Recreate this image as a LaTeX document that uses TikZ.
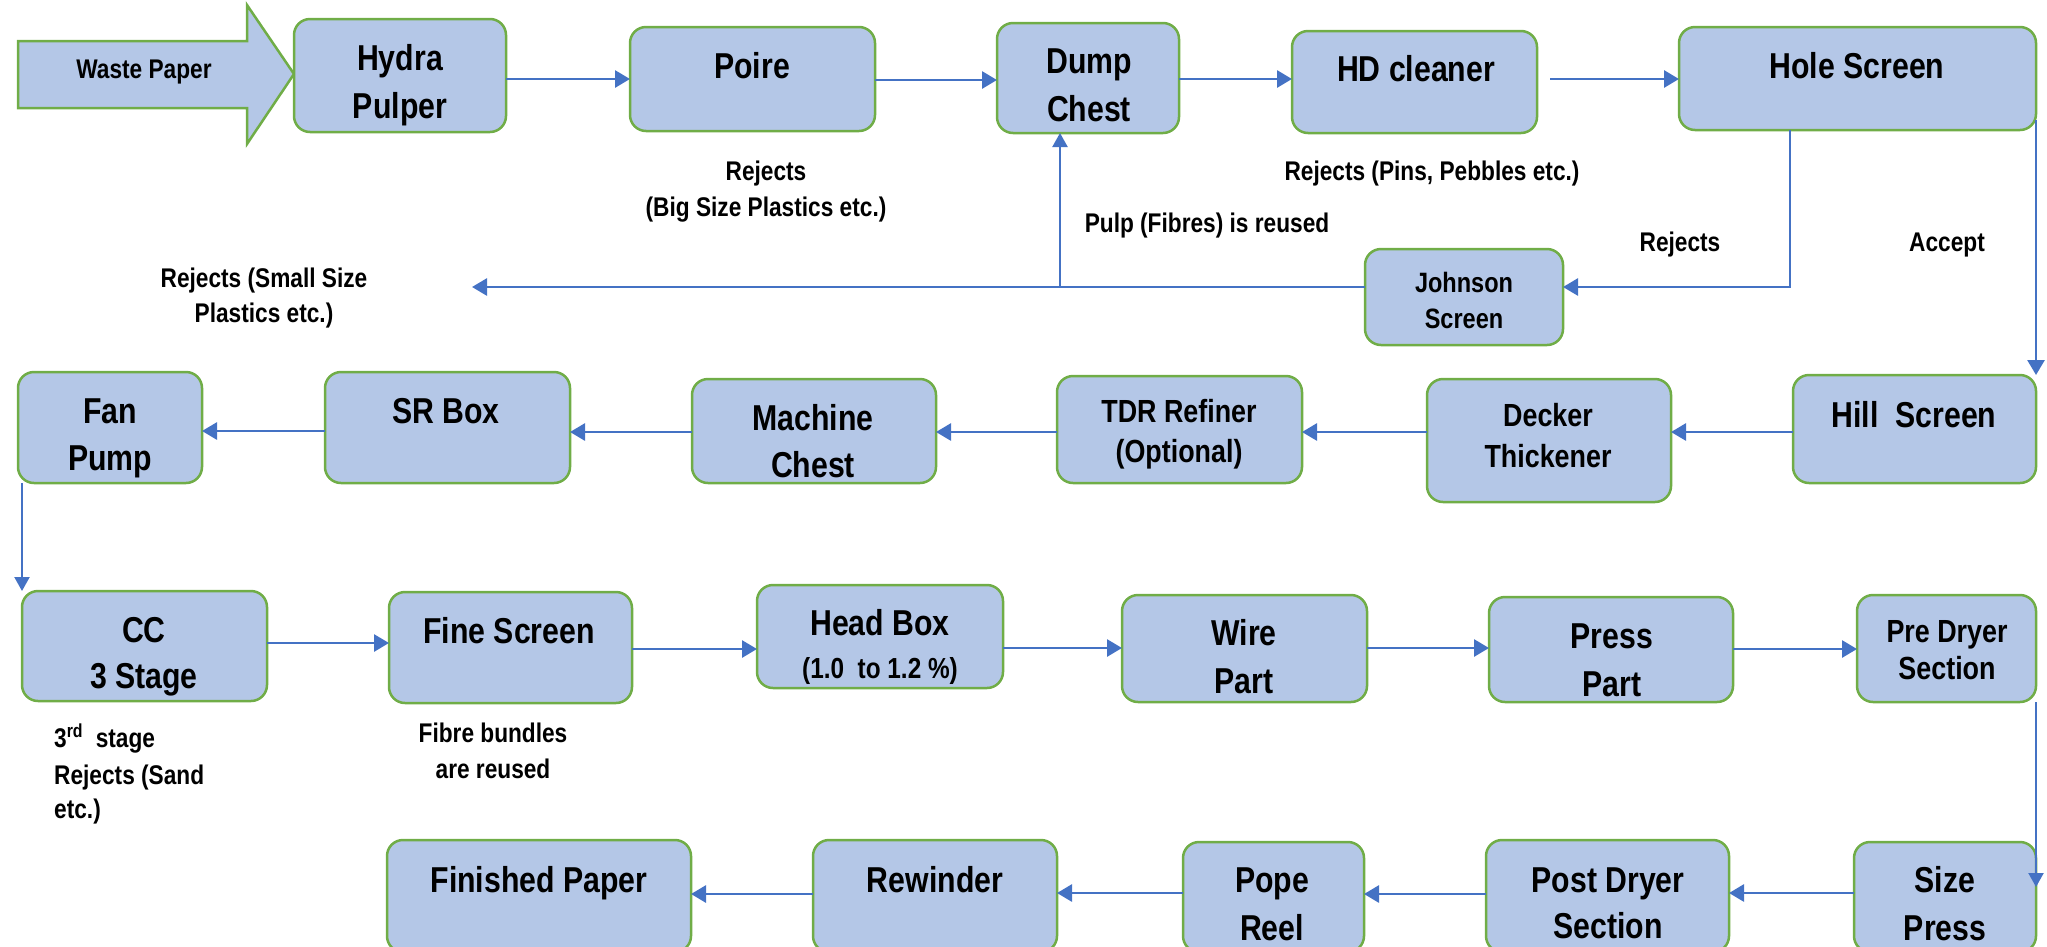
\documentclass[tikz,border=0pt]{standalone}
\usepackage{fontspec}
\setmainfont{Liberation Sans}[FakeStretch=0.84]
\usetikzlibrary{arrows.meta}
\definecolor{bfill}{HTML}{B4C7E7}
\definecolor{bgreen}{HTML}{70AD47}
\definecolor{ablue}{HTML}{4472C4}
\tikzset{
  box/.style={draw=bgreen, fill=bfill, line width=2.5pt, rounded corners=16pt, inner sep=0pt, outer sep=0pt},
  flow/.style={draw=ablue, line width=2.8pt, -{Triangle[length=15pt,width=17pt]}},
  thinflow/.style={draw=ablue, line width=2.2pt, -{Triangle[length=14pt,width=15pt]}},
  flowline/.style={draw=ablue, line width=2.8pt},
  tL/.style={font=\fontsize{36}{43}\selectfont\bfseries, anchor=base, inner sep=0pt},
  tM/.style={font=\fontsize{32}{38}\selectfont\bfseries, anchor=base, inner sep=0pt},
  tS/.style={font=\fontsize{27}{32}\selectfont\bfseries, anchor=base, inner sep=0pt},
  tJ/.style={font=\fontsize{28}{33}\selectfont\bfseries, anchor=base, inner sep=0pt},
}
\newcommand\bx[5]{\node[box, minimum width={#4-#2}, minimum height={#5-#3}] (#1) at ({(#2+#4)/2},{(#3+#5)/2}) {};}
\begin{document}
\begin{tikzpicture}[x=1pt, y=-1pt]
\useasboundingbox (0,0) rectangle (2047,946);
\clip (0,0) rectangle (2047,946);

% input arrow
\path[draw=bgreen, fill=bfill, line width=2.5pt, line join=miter]
  (18,41) -- (247,41) -- (247,5) -- (294,74) -- (247,144) -- (247,108) -- (18,108) -- cycle;

% boxes
\bx{hydra}{294}{19}{506}{132}
\bx{poire}{630}{27}{875}{131}
\bx{dump}{997}{23}{1179}{133}
\bx{hd}{1292}{31}{1537}{133}
\bx{hole}{1679}{27}{2036}{130}
\bx{johnson}{1365}{249}{1563}{345}
\bx{fan}{18}{372}{202}{483}
\bx{sr}{325}{372}{570}{483}
\bx{machine}{692}{379}{936}{483}
\bx{tdr}{1057}{376}{1302}{483}
\bx{decker}{1427}{379}{1671}{502}
\bx{hill}{1793}{375}{2036}{483}
\bx{cc}{22}{591}{267}{701}
\bx{fine}{389}{592}{632}{703}
\bx{head}{757}{585}{1003}{688}
\bx{wire}{1122}{595}{1367}{702}
\bx{press}{1489}{597}{1733}{702}
\bx{predryer}{1857}{595}{2036}{702}
\bx{finished}{387}{840}{691}{952}
\bx{rewinder}{813}{840}{1057}{952}
\bx{pope}{1183}{842}{1364}{952}
\bx{postdryer}{1486}{840}{1729}{952}
\bx{size}{1854}{842}{2036}{952}

% texts row 1
\node[tS] (wp-t) at (144,78) {Waste Paper};
\node[tL] (hydra-t1) at (400,70) {Hydra};
\node[tL] (hydra-t2) at (400,118) {Pulper};
\node[tL] (poire-t) at (752,78) {Poire};
\node[tL] (dump-t1) at (1089,73) {Dump};
\node[tL] (dump-t2) at (1089,121) {Chest};
\node[tL] (hd-t) at (1416,81) {HD cleaner};
\node[tL] (hole-t) at (1857,78) {Hole Screen};
\node[tS] (rj1a) at (766,180) {Rejects};
\node[tS] (rj1b) at (766,216) {(Big Size Plastics etc.)};
\node[tS] (rj2) at (1432,180) {Rejects (Pins, Pebbles etc.)};
\node[tS] (pulp) at (1207,232) {Pulp (Fibres) is reused};
\node[tS] (rj3) at (1680,251) {Rejects};
\node[tS] (acc) at (1947,251) {Accept};
\node[tS] (rj4a) at (264,287) {Rejects (Small Size};
\node[tS] (rj4b) at (264,322) {Plastics etc.)};
\node[tJ] (john-t1) at (1464,292) {Johnson};
\node[tJ] (john-t2) at (1464,328) {Screen};

% texts row 2
\node[tL] (fan-t1) at (110,423) {Fan};
\node[tL] (fan-t2) at (110,470) {Pump};
\node[tL] (sr-t) at (446,423) {SR Box};
\node[tL] (mach-t1) at (813,430) {Machine};
\node[tL] (mach-t2) at (813,477) {Chest};
\node[tM] (tdr-t1) at (1179,422) {TDR Refiner};
\node[tM] (tdr-t2) at (1179,462) {(Optional)};
\node[tM] (deck-t1) at (1548,426) {Decker};
\node[tM] (deck-t2) at (1548,467) {Thickener};
\node[tL] (hill-t) at (1914,427) {Hill\ \ Screen};

% texts row 3
\node[tL] (cc-t1) at (144,642) {CC};
\node[tL] (cc-t2) at (144,688) {3 Stage};
\node[tL] (fine-t) at (509,643) {Fine Screen};
\node[tL] (head-t1) at (880,635) {Head Box};
\node[font=\fontsize{29}{34}\selectfont\bfseries, anchor=base, inner sep=0pt] (head-t2) at (880,678) {(1.0\ \ to 1.2 \%)};
\node[tL] (wire-t1) at (1244,645) {Wire};
\node[tL] (wire-t2) at (1244,693) {Part};
\node[tL] (press-t1) at (1612,648) {Press};
\node[tL] (press-t2) at (1612,696) {Part};
\node[tM] (pre-t1) at (1947,642) {Pre Dryer};
\node[tM] (pre-t2) at (1947,679) {Section};
\node[tS] (fib-t1) at (493,742) {Fibre bundles};
\node[tS] (fib-t2) at (493,778) {are reused};
\node[tS, anchor=base west] (st-t1) at (54,747) {3\textsuperscript{rd}\ \ stage};
\node[tS, anchor=base west] (st-t2) at (54,784) {Rejects (Sand};
\node[tS, anchor=base west] (st-t3) at (54,818) {etc.)};

% texts row 4
\node[tL] (fin-t) at (539,892) {Finished Paper};
\node[tL] (rew-t) at (935,892) {Rewinder};
\node[tL] (pope-t1) at (1272,892) {Pope};
\node[tL] (pope-t2) at (1272,940) {Reel};
\node[tL] (post-t1) at (1608,892) {Post Dryer};
\node[tL] (post-t2) at (1608,938) {Section};
\node[tL] (size-t1) at (1945,892) {Size};
\node[tL] (size-t2) at (1945,940) {Press};

% named free ends
\coordinate (hdout) at (1550,79);
\coordinate (rjcorner) at (1790,287);
\coordinate (smallrej) at (472,287);
\coordinate (pulpfoot) at (1060,287);
\coordinate (sizein) at (2036,887);

% connectors row 1
\draw[flow] (hydra.east |- 0,79) -- (poire.west |- 0,79);
\draw[flow] (poire.east |- 0,80) -- (dump.west |- 0,80);
\draw[flow] (dump.east |- 0,79) -- (hd.west |- 0,79);
\draw[flow] (hdout) -- (hole.west |- hdout);
\draw[flow] (hole.south -| rjcorner) -- (rjcorner) -- (johnson.east |- rjcorner);
\draw[flow] (johnson.west |- smallrej) -- (smallrej);
\draw[thinflow] (pulpfoot) -- (dump.south -| pulpfoot);
\draw[flow] (hole.east |- 0,120) -- (hole.east |- hill.north);

% row 2
\draw[flow] (hill.west |- 0,432) -- (decker.east |- 0,432);
\draw[flow] (decker.west |- 0,432) -- (tdr.east |- 0,432);
\draw[flow] (tdr.west |- 0,432) -- (machine.east |- 0,432);
\draw[flow] (machine.west |- 0,432) -- (sr.east |- 0,432);
\draw[flow] (sr.west |- 0,431) -- (fan.east |- 0,431);
\draw[thinflow] (fan.south -| 22,0) -- (cc.north -| 22,0);

% row 3
\draw[flow] (cc.east |- 0,643) -- (fine.west |- 0,643);
\draw[flow] (fine.east |- 0,649) -- (head.west |- 0,649);
\draw[flow] (head.east |- 0,648) -- (wire.west |- 0,648);
\draw[flow] (wire.east |- 0,648) -- (press.west |- 0,648);
\draw[flow] (press.east |- 0,649) -- (predryer.west |- 0,649);
\draw[thinflow] (predryer.south -| sizein) -- (sizein);

% row 4
\draw[flow] (size.west |- 0,893) -- (postdryer.east |- 0,893);
\draw[flow] (postdryer.west |- 0,894) -- (pope.east |- 0,894);
\draw[flow] (pope.west |- 0,893) -- (rewinder.east |- 0,893);
\draw[flow] (rewinder.west |- 0,894) -- (finished.east |- 0,894);
\end{tikzpicture}
\end{document}
